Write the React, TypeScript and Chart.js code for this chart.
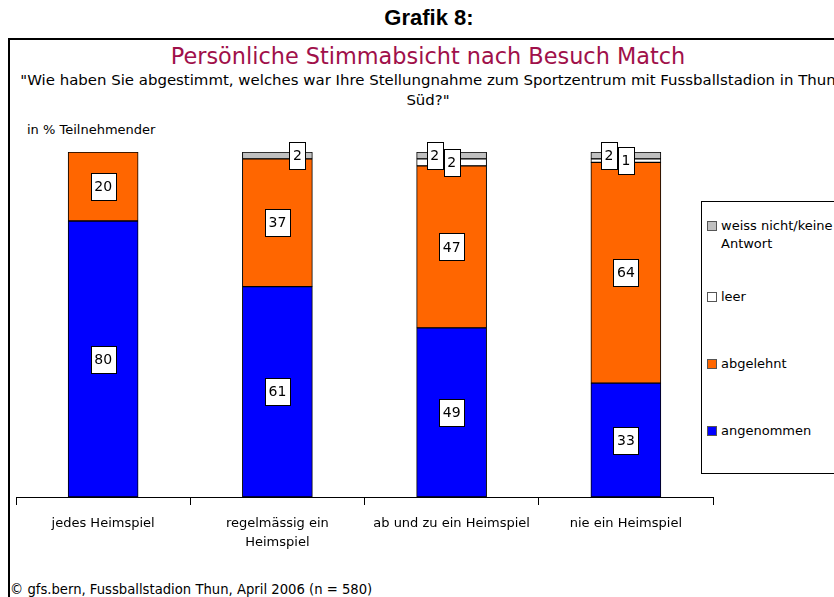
import React, { useEffect, useRef } from "react";
import { Chart, registerables } from "chart.js";

Chart.register(...registerables);

const categories: (string | string[])[] = [
  "jedes Heimspiel",
  ["regelmässig ein", "Heimspiel"],
  "ab und zu ein Heimspiel",
  "nie ein Heimspiel",
];
const angenommen = [80, 61, 49, 33];
const abgelehnt = [20, 37, 47, 64];
const leer = [null, null, 2, 1];
const weissNicht = [null, 2, 2, 2];

const seriesNames = ["angenommen", "abgelehnt", "leer", "weiss nicht/keine Antwort"];
const seriesColors = ["#0000FF", "#FF6600", "#FFFFFF", "#C0C0C0"];

const TITLE = "Persönliche Stimmabsicht nach Besuch Match";
const SUBTITLE1 =
  "\"Wie haben Sie abgestimmt, welches war Ihre Stellungnahme zum Sportzentrum mit Fussballstadion in Thun";
const SUBTITLE2 = "Süd?\"";
const UNIT = "in % Teilnehmender";
const HEADER = "Grafik 8:";
const FOOTER = "© gfs.bern, Fussballstadion Thun, April 2006 (n = 580)";

const labelPlugin = {
  id: "boxLabels",
  afterDatasetsDraw(chart: any) {
    const ctx = chart.ctx;
    ctx.save();
    ctx.font = "14px 'DejaVu Sans', sans-serif";
    ctx.textAlign = "center";
    ctx.textBaseline = "middle";
    const nDs = chart.data.datasets.length;
    for (let d = 0; d < nDs; d++) {
      const meta = chart.getDatasetMeta(d);
      const ds = chart.data.datasets[d];
      meta.data.forEach((el: any, i: number) => {
        const v = ds.data[i];
        if (v === null || v === undefined) return;
        let x = el.x;
        const y = (el.y + el.base) / 2;
        if (v < 5) {
          const hasLeer = leer[i] !== null;
          if (d === 3) x += hasLeer ? -17 : 20;
        }
        const txt = String(v);
        const w = ctx.measureText(txt).width + 7;
        const h = 27;
        ctx.fillStyle = "#FFFFFF";
        ctx.strokeStyle = "#000000";
        ctx.lineWidth = 1;
        ctx.fillRect(Math.round(x - w / 2), Math.round(y - h / 2), Math.round(w), h);
        ctx.strokeRect(Math.round(x - w / 2) + 0.5, Math.round(y - h / 2) + 0.5, Math.round(w), h);
        ctx.fillStyle = "#000000";
        ctx.fillText(txt, x, y + 1);
      });
    }
    ctx.restore();
  },
};

export default function App() {
  const ref = useRef<HTMLCanvasElement | null>(null);
  useEffect(() => {
    if (!ref.current) return;
    const data = [angenommen, abgelehnt, leer, weissNicht];
    const chart = new Chart(ref.current, {
      type: "bar",
      data: {
        labels: categories,
        datasets: data.map((arr, k) => ({
          label: seriesNames[k],
          data: arr as any,
          backgroundColor: seriesColors[k],
          borderColor: "#000000",
          borderWidth: 1,
          borderSkipped: false,
          barThickness: 70,
        })),
      },
      options: {
        animation: false,
        responsive: false,
        maintainAspectRatio: false,
        layout: { padding: { left: 16, right: 121, top: 152, bottom: 40 } },
        plugins: { legend: { display: false }, tooltip: { enabled: false }, title: { display: false } },
        scales: {
          x: {
            stacked: true,
            afterFit: (s: any) => {
              s.height = 60;
            },
            grid: {
              display: true,
              drawOnChartArea: false,
              drawTicks: true,
              tickLength: 8,
              color: "#000000",
              offset: true,
            },
            border: { display: true, color: "#000000", width: 1 },
            ticks: {
              color: "#000000",
              font: { family: "'DejaVu Sans', sans-serif", size: 13, lineHeight: 1.45 },
              padding: 9,
              maxRotation: 0,
              autoSkip: false,
            },
          },
          y: { stacked: true, display: false, min: 0, max: 100 },
        },
      },
      plugins: [labelPlugin],
    });
    return () => chart.destroy();
  }, []);

  const legendItems = [
    { name: ["weiss nicht/keine", "Antwort"], color: seriesColors[3], top: 217 },
    { name: ["leer"], color: seriesColors[2], top: 288 },
    { name: ["abgelehnt"], color: seriesColors[1], top: 355 },
    { name: ["angenommen"], color: seriesColors[0], top: 422 },
  ];

  return (
    <div
      style={{
        position: "fixed",
        left: 0,
        top: 0,
        width: 834,
        height: 597,
        overflow: "hidden",
        background: "#fff",
        fontFamily: "'DejaVu Sans', sans-serif",
      }}
    >
      <div
        style={{
          position: "absolute",
          left: 0,
          width: 858,
          top: 5,
          textAlign: "center",
          fontWeight: "bold",
          fontSize: 22,
          fontFamily: "'Liberation Sans', Arial, sans-serif",
          color: "#000",
        }}
      >
        {HEADER}
      </div>
      <div
        style={{
          position: "absolute",
          left: 8,
          top: 38,
          width: 900,
          height: 700,
          borderLeft: "2px solid #000",
          borderTop: "2px solid #000",
        }}
      />
      <div
        style={{
          position: "absolute",
          left: 0,
          width: 856,
          top: 43,
          textAlign: "center",
          fontSize: 22.4,
          lineHeight: "26px",
          color: "#A0104A",
          whiteSpace: "nowrap",
        }}
      >
        {TITLE}
      </div>
      <div
        style={{
          position: "absolute",
          left: -200,
          width: 1256,
          top: 70,
          textAlign: "center",
          fontSize: 14.95,
          lineHeight: "20px",
          color: "#000",
          whiteSpace: "nowrap",
        }}
      >
        <div>{SUBTITLE1}</div>
        <div>{SUBTITLE2}</div>
      </div>
      <div
        style={{
          position: "absolute",
          left: 27,
          top: 121,
          fontSize: 13,
          lineHeight: "18px",
          color: "#000",
          whiteSpace: "nowrap",
        }}
      >
        {UNIT}
      </div>
      <div
        style={{
          position: "absolute",
          left: 701,
          top: 201,
          width: 200,
          height: 273,
          border: "1px solid #000",
          boxSizing: "border-box",
        }}
      />
      {legendItems.map((it, k) => (
        <div
          key={k}
          style={{
            position: "absolute",
            left: 707,
            top: it.top,
            fontSize: 13,
            lineHeight: "18px",
            whiteSpace: "nowrap",
            color: "#000",
          }}
        >
          <span
            style={{
              position: "absolute",
              left: 0,
              top: 4,
              width: 10,
              height: 10,
              background: it.color,
              border: "1px solid #555",
              boxSizing: "border-box",
            }}
          />
          <div style={{ marginLeft: 14 }}>
            {it.name.map((n, j) => (
              <div key={j}>{n}</div>
            ))}
          </div>
        </div>
      ))}
      <div
        style={{
          position: "absolute",
          left: 10,
          top: 581,
          fontSize: 13.2,
          lineHeight: "18px",
          color: "#000",
          whiteSpace: "nowrap",
        }}
      >
        {FOOTER}
      </div>
      <canvas ref={ref} width={834} height={597} style={{ position: "absolute", left: 0, top: 0 }} />
    </div>
  );
}
